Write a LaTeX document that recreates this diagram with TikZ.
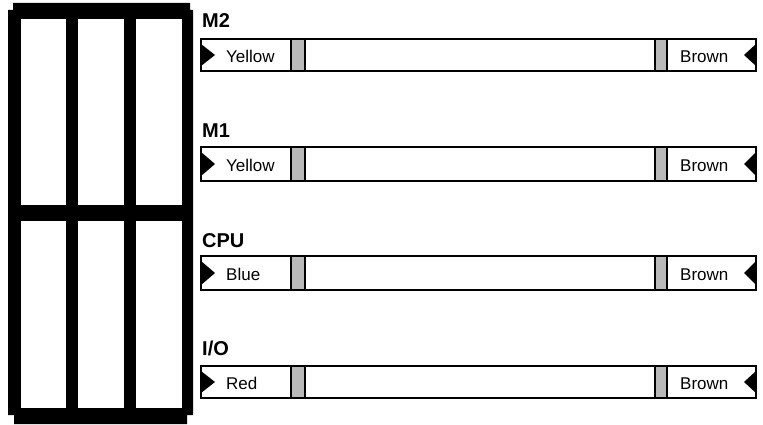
\documentclass[tikz,border=0pt]{standalone}
\usepackage{fontspec}
\setmainfont{Liberation Sans}
\begin{document}
\begin{tikzpicture}[x=1pt,y=-1pt,
  barline/.style={line width=2pt},
  grayblock/.style={fill=gray!55, draw=black, line width=1.2pt},
  tag/.style={font=\fontsize{20}{20}\selectfont\bfseries, anchor=base west, inner sep=0pt},
  colortext/.style={font=\fontsize{17}{17}\selectfont, anchor=base west, inner sep=0pt}]
\useasboundingbox (0,0) rectangle (763,425);
% cabinet
\fill[black] (13,3) -- (190,3) -- (190,10) -- (193,10) -- (193,415) -- (187,415) -- (187,424)
  -- (14,424) -- (14,415) -- (8,415) -- (8,10) -- (13,10) -- cycle;
\foreach \xa/\xb in {21/66,78/124,136/182} {
  \fill[white] (\xa,19) rectangle (\xb,205);
  \fill[white] (\xa,221) rectangle (\xb,408);
}
% bars
\foreach \n/\lab/\col/\t/\b/\ly in {m2/M2/Yellow/39/71/28, m1/M1/Yellow/147/181/138, cpu/CPU/Blue/256/290/247, io/{I/O}/Red/366/398/355} {
  \node[tag] (\n-label) at (202,\ly) {\lab};
  \draw[barline, fill=white] (201,\t) rectangle (756,\b);
  \fill (201,{\t+5}) -- (215,{(\t+\b)/2}) -- (201,{\b-5}) -- cycle;
  \fill (756,{\t+5}) -- (744,{(\t+\b)/2}) -- (756,{\b-5}) -- cycle;
  \draw[grayblock] (291,\t) rectangle (305,\b);
  \draw[grayblock] (655,\t) rectangle (667,\b);
  \node[colortext] (\n-left) at (226,{(\t+\b)/2+7.5}) {\col};
  \node[colortext] (\n-right) at (680,{(\t+\b)/2+7.5}) {Brown};
}
\end{tikzpicture}
\end{document}
